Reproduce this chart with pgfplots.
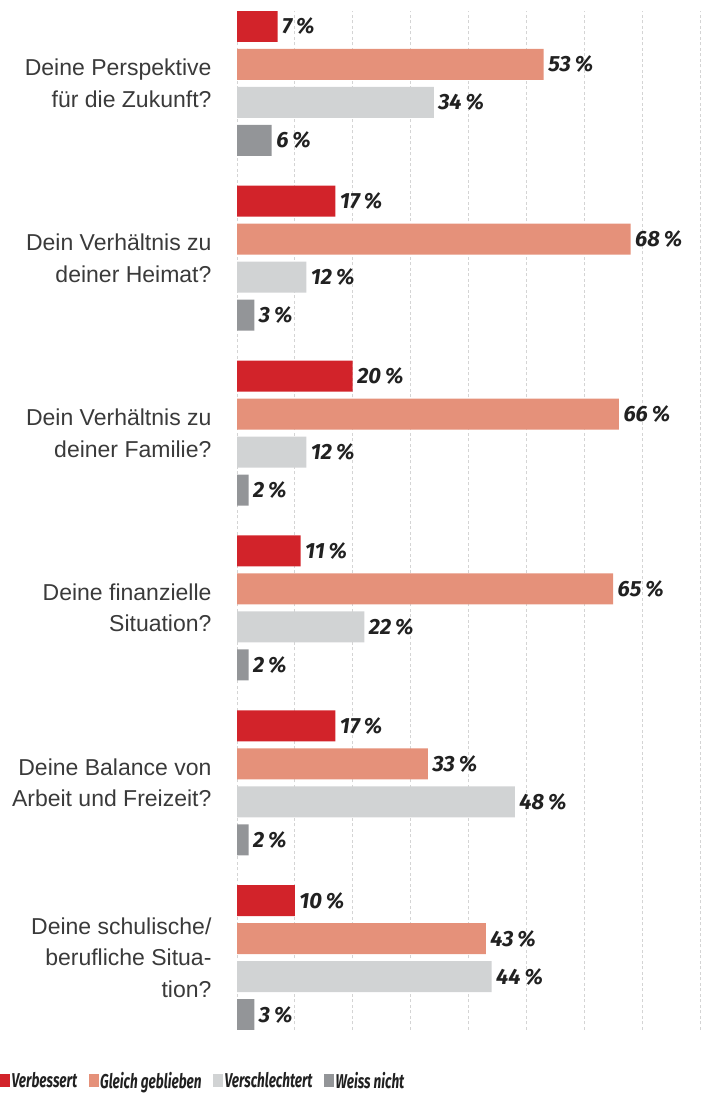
\documentclass[border=0pt]{standalone}
\usepackage{pgfplots}
\pgfplotsset{compat=1.18}
\usepackage{fontspec}
\setmainfont{Liberation Sans}
\newfontfamily\valfont{Fira Sans}
\definecolor{cRed}{HTML}{D2232A}
\definecolor{cSal}{HTML}{E5917A}
\definecolor{cLG}{HTML}{D1D3D4}
\definecolor{cDG}{HTML}{939598}
\definecolor{txt}{HTML}{3A3A3A}
\definecolor{grd}{HTML}{D4D4D4}
\newcommand{\legtxt}[1]{\scalebox{0.68}[1]{#1}}
\begin{document}
\begin{tikzpicture}
\path[use as bounding box] (0pt,0pt) rectangle (706pt,-1095pt);
\begin{axis}[
  at={(237pt,-11pt)}, anchor=north west,
  scale only axis, width=463pt, height=1019pt,
  xmin=0, xmax=80, ymin=-0.4136, ymax=5.4136,
  xbar, bar width=31pt,
  xtick={0,10,...,80}, xticklabels={},
  xmajorgrids, grid style={grd, dash pattern=on 3pt off 2.5pt, line width=0.8pt},
  axis line style={draw=none}, major tick length=0pt,
  ytick={0,...,5},
  yticklabels={{Deine schulische/\\berufliche Situa-\\tion?},
               {Deine Balance von\\Arbeit und Freizeit?},
               {Deine finanzielle\\Situation?},
               {Dein Verhältnis zu\\deiner Familie?},
               {Dein Verhältnis zu\\deiner Heimat?},
               {Deine Perspektive\\für die Zukunft?}},
  yticklabel style={align=right, font=\fontsize{23}{31.5}\selectfont, text=txt, xshift=-22pt},
  point meta=x,
  nodes near coords={\pgfmathprintnumber[assume math mode=true]{\pgfplotspointmeta}\,\%},
  nodes near coords style={font=\valfont\bfseries\itshape\fontsize{22}{22}\selectfont, text=black!87, anchor=west, xshift=1pt},
  legend columns=4,
  legend style={draw=none, fill=none, at={(-0.5119,-0.05)}, anchor=west,
    font=\valfont\bfseries\itshape\fontsize{20}{20}\selectfont, text=black!87,
    /tikz/every even column/.append style={column sep=10pt},
    nodes={inner sep=1.5pt},
    inner sep=0pt},
  legend cell align=left,
  legend image code/.code={\fill[#1] (0pt,-6.5pt) rectangle (10pt,6.5pt);},
]
\addplot[fill=cRed, draw=none, bar shift=57pt] coordinates {(10,0) (17,1) (11,2) (20,3) (17,4) (7,5)};
\addplot[fill=cSal, draw=none, bar shift=19pt] coordinates {(43,0) (33,1) (65,2) (66,3) (68,4) (53,5)};
\addplot[fill=cLG, draw=none, bar shift=-19pt] coordinates {(44,0) (48,1) (22,2) (12,3) (12,4) (34,5)};
\addplot[fill=cDG, draw=none, bar shift=-57pt] coordinates {(3,0) (2,1) (2,2) (2,3) (3,4) (6,5)};
\legend{\legtxt{Verbessert}, \legtxt{Gleich geblieben}, \legtxt{Verschlechtert}, \legtxt{Weiss nicht}}
\end{axis}
\end{tikzpicture}
\end{document}
